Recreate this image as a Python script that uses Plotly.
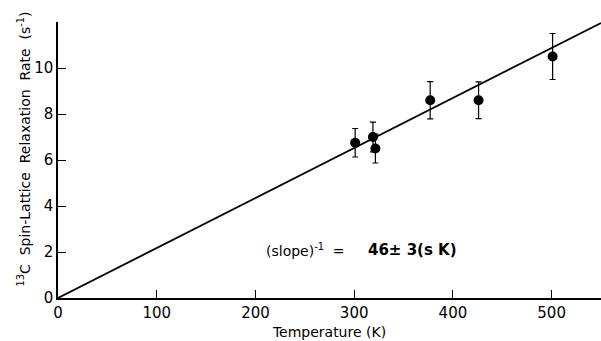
import plotly.graph_objects as go

# data
temperature_K = [301, 319, 321.5, 377, 426, 501]
rate_s = [6.75, 7.0, 6.5, 8.6, 8.6, 10.5]
rate_err = [0.62, 0.65, 0.63, 0.81, 0.8, 1.0]
inverse_slope = 46  # s K
x_range = [0, 550]
y_range = [0, 12]
x_ticks = [0, 100, 200, 300, 400, 500]
y_ticks = [0, 2, 4, 6, 8, 10]

FONT = "DejaVu Sans"

fit_x = x_range
fit_y = [v / inverse_slope for v in fit_x]

fig = go.Figure()
fig.add_trace(go.Scatter(
    x=fit_x, y=fit_y, mode="lines",
    line=dict(color="black", width=1.8), showlegend=False, cliponaxis=False))
fig.add_trace(go.Scatter(
    x=temperature_K, y=rate_s, mode="markers",
    marker=dict(color="black", size=10),
    error_y=dict(type="data", array=rate_err, color="black", thickness=1.2, width=3),
    showlegend=False))

fig.update_layout(
    width=601, height=341,
    margin=dict(l=58, r=0, t=22, b=43),
    paper_bgcolor="white", plot_bgcolor="white",
    font=dict(family=FONT, color="black", size=14),
    xaxis=dict(range=x_range, tickvals=x_ticks, showgrid=False, zeroline=False,
               showline=True, linecolor="black", linewidth=1.5,
               ticks="inside", ticklen=8, tickcolor="black", tickwidth=1.2,
               tickfont=dict(size=15, family=FONT), fixedrange=True,
               title=dict(text="Temperature (K)", font=dict(size=14, family=FONT), standoff=6)),
    yaxis=dict(range=y_range, tickvals=y_ticks, showgrid=False, zeroline=False,
               showline=True, linecolor="black", linewidth=1.5,
               ticks="inside", ticklen=8, tickcolor="black", tickwidth=1.2,
               tickfont=dict(size=15, family=FONT), fixedrange=True),
    annotations=[
        dict(text="<sup>13</sup>C  Spin-Lattice  Relaxation  Rate  (s<sup>-1</sup>)",
             xref="paper", yref="paper", x=-0.082, y=0.54, textangle=-90,
             showarrow=False, font=dict(size=14, family=FONT)),
        dict(text="(slope)<sup>-1</sup>  =", xref="x", yref="y",
             x=209, y=2.1, xanchor="left", showarrow=False,
             font=dict(size=14, family=FONT)),
        dict(text="<b>%d± 3(s K)</b>" % inverse_slope, xref="x", yref="y",
             x=312, y=2.1, xanchor="left", showarrow=False,
             font=dict(size=15, family=FONT)),
    ],
)

fig.write_html("out.html", config={"displayModeBar": False},
               post_script="document.body.style.margin='0';")
